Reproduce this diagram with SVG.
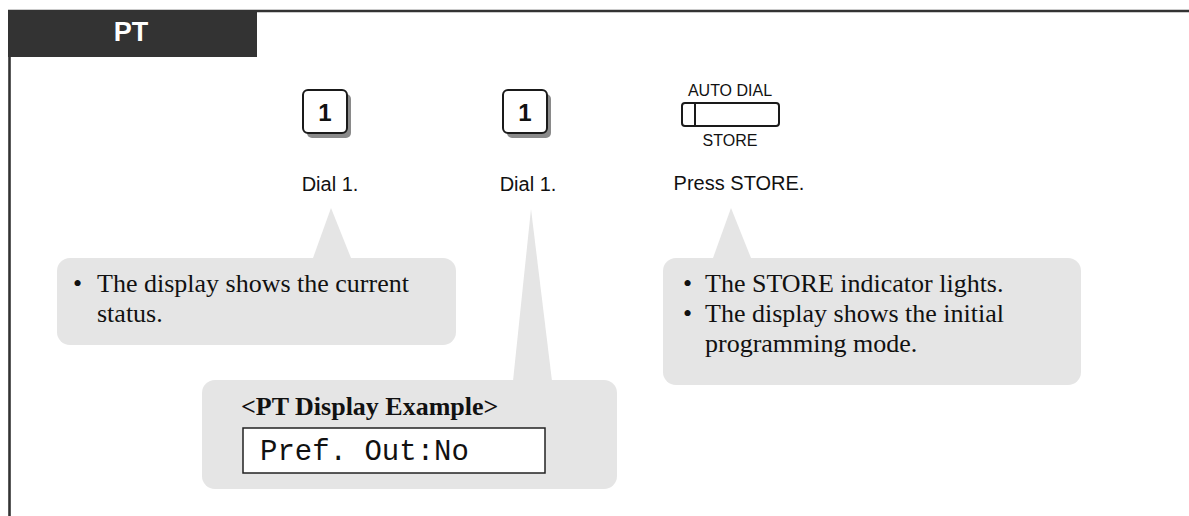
<svg xmlns="http://www.w3.org/2000/svg" width="1189" height="516" viewBox="0 0 1189 516">
<defs>
<style>
.frame{stroke:#333;stroke-width:2.6;fill:none}
.hdr{fill:#333}
.hdrtxt{font-family:"Liberation Sans",Arial,sans-serif;font-weight:bold;font-size:27px;fill:#fff;text-anchor:middle}
.key{fill:#fff;stroke:#1a1a1a;stroke-width:2}
.shadow{fill:#8a8a8a}
.keytxt{font-family:"Liberation Sans",Arial,sans-serif;font-weight:bold;font-size:24px;fill:#111;text-anchor:middle}
.lbl{font-family:"Liberation Sans",Arial,sans-serif;font-size:20px;fill:#111;text-anchor:middle}
.small{font-family:"Liberation Sans",Arial,sans-serif;font-size:16px;fill:#111;text-anchor:middle}
.callout{fill:#e5e5e5}
.ser{font-family:"Liberation Serif","Times New Roman",serif;font-size:26px;fill:#111}
.serb{font-family:"Liberation Serif","Times New Roman",serif;font-size:26px;font-weight:bold;fill:#111}
.mono{font-family:"Liberation Mono","Courier New",monospace;font-size:29px;fill:#111}
.disp{fill:#fff;stroke:#222;stroke-width:1.5}
</style>
</defs>

<g id="frame">
<line class="frame" x1="8" y1="11" x2="1189" y2="11"/>
<line class="frame" x1="9.5" y1="57" x2="9.5" y2="516"/>
</g>

<g id="header">
<rect class="hdr" x="8" y="10" width="249" height="47"/>
<text class="hdrtxt" x="131" y="41">PT</text>
</g>

<g id="connectors">
<path class="callout" d="M313 258 L331 208 L351 258 Z"/>
<path class="callout" d="M513 381 L531 209 L552 381 Z"/>
<path class="callout" d="M713 258 L731 208 L751 258 Z"/>
</g>

<g id="step1">
<rect class="shadow" x="307" y="94" width="44" height="44" rx="5"/>
<rect class="key" x="303" y="90" width="44" height="43" rx="5"/>
<text class="keytxt" x="325" y="121">1</text>
<text class="lbl" x="330" y="191">Dial 1.</text>
</g>

<g id="step2">
<rect class="shadow" x="507" y="94" width="44" height="44" rx="5"/>
<rect class="key" x="503" y="90" width="44" height="43" rx="5"/>
<text class="keytxt" x="525" y="121">1</text>
<text class="lbl" x="528" y="191">Dial 1.</text>
</g>

<g id="step3">
<text class="small" x="730" y="96">AUTO DIAL</text>
<rect x="682" y="103" width="97" height="23" rx="3" fill="#fff" stroke="#1a1a1a" stroke-width="2"/>
<line x1="695" y1="103" x2="695" y2="126" stroke="#1a1a1a" stroke-width="2"/>
<text class="small" x="730" y="146">STORE</text>
<text class="lbl" x="739" y="190">Press STORE.</text>
</g>

<g id="note1">
<rect class="callout" x="57" y="258" width="399" height="87" rx="13"/>
<text class="ser" x="73" y="292">•</text>
<text class="ser" x="97" y="292">The display shows the current</text>
<text class="ser" x="97" y="322">status.</text>
</g>

<g id="note2">
<rect class="callout" x="202" y="380" width="415" height="109" rx="13"/>
<text class="serb" x="241" y="415">&lt;PT Display Example&gt;</text>
<rect class="disp" x="243" y="428" width="302" height="45"/>
<text class="mono" x="260" y="460" xml:space="preserve">Pref. Out:No</text>
</g>

<g id="note3">
<rect class="callout" x="663" y="258" width="418" height="127" rx="13"/>
<text class="ser" x="683" y="292">•</text>
<text class="ser" x="705" y="292">The STORE indicator lights.</text>
<text class="ser" x="683" y="322">•</text>
<text class="ser" x="705" y="322">The display shows the initial</text>
<text class="ser" x="705" y="352">programming mode.</text>
</g>
</svg>
